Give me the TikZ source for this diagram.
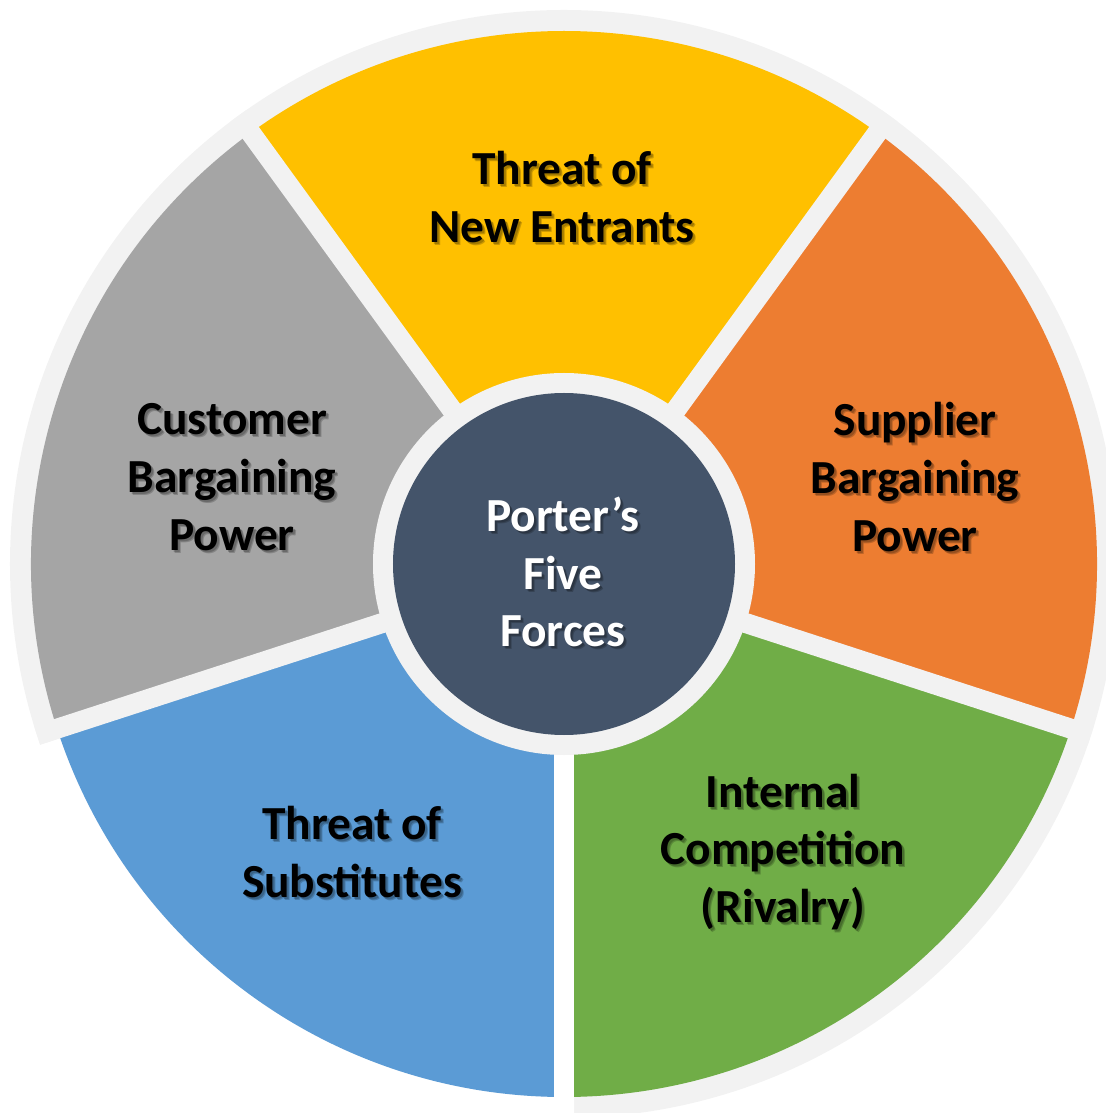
\documentclass[tikz,border=0pt]{standalone}
\usepackage{fontspec}
\setmainfont{Carlito}
\definecolor{fond}{HTML}{F2F2F2}
\definecolor{jaune}{HTML}{FFC000}
\definecolor{orange}{HTML}{ED7D31}
\definecolor{vert}{HTML}{70AD47}
\definecolor{bleu}{HTML}{5B9BD5}
\definecolor{gris}{HTML}{A5A5A5}
\definecolor{ardoise}{HTML}{44546A}
\tikzset{
    texte/.style={align=center, inner sep=0pt,
        font=\fontsize{27}{32.9}\selectfont\bfseries},
    ombre/.style={texte, text=black, opacity=0.2},
    fente/.style={line width=4mm}
}
% texte avec ombre portée
\newcommand{\force}[4][black]{%
    \node[ombre, shift={(3,-3)}] (#2-flou) at (#3) {#4};
    \node[ombre, shift={(2,-2)}] (#2-ombre) at (#3) {#4};
    \node[texte, text=#1] (#2) at (#3) {#4};
}

\begin{document}
\begin{tikzpicture}[x=0.2mm, y=0.2mm]
    \useasboundingbox (-564,-549) rectangle (542,564);

    % Anneau extérieur
    \fill[fond] (0,0) circle[radius=554];
    \fill[white] (288:10) -- ++(198:700) -- (-700,-700) -- (10,-700) -- (10,0) -- cycle;

    % Secteurs
    \fill[jaune] (0,0) -- (54:533) arc[start angle=54, end angle=126, radius=533] -- cycle;
    \fill[gris] (0,0) -- (126:533) arc[start angle=126, end angle=198, radius=533] -- cycle;
    \fill[bleu] (0,0) -- (198:533) arc[start angle=198, end angle=270, radius=533] -- cycle;
    \fill[vert] (0,0) -- (270:533) arc[start angle=270, end angle=342, radius=533] -- cycle;
    \fill[orange] (0,0) -- (-18:533) arc[start angle=-18, end angle=54, radius=533] -- cycle;

    % Séparations
    \foreach \a in {54,126,198,342}
        \draw[fente, fond] (0,0) -- (\a:554);
    \draw[fente, white] (0,0) -- (0,-600);

    % Centre
    \fill[fond] (0,0) circle[radius=191];
    \fill[ardoise] (0,0) circle[radius=171];

    \force{entrants}{-2,367}{Threat of\\New Entrants}
    \force{customer}{-332,87}{Customer\\Bargaining\\Power}
    \force{supplier}{351,87}{Supplier\\Bargaining\\Power}
    \force{substitutes}{-212,-288}{Threat of\\Substitutes}
    \force{rivalry}{219,-288}{Internal\\Competition\\(Rivalry)}
    \force[white]{porter}{-1,-8}{Porter’s\\Five\\Forces}

\end{tikzpicture}
\end{document}
